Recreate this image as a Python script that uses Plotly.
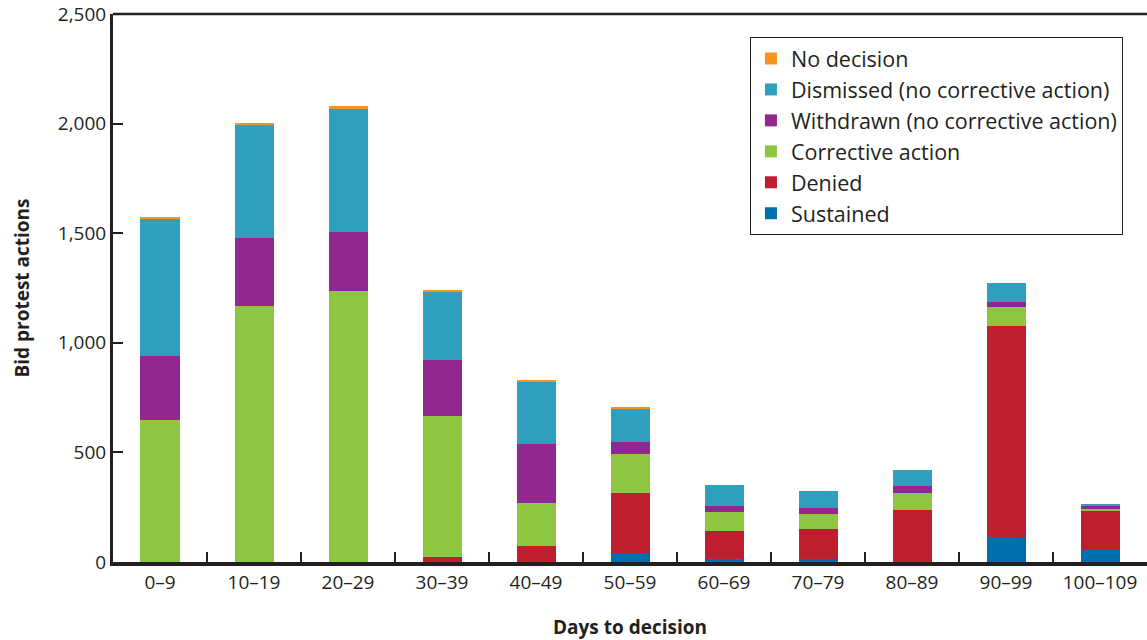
import plotly.graph_objects as go

categories = ["0–9", "10–19", "20–29", "30–39", "40–49", "50–59",
              "60–69", "70–79", "80–89", "90–99", "100–109"]

sustained  = [0, 0, 0, 2, 1, 40, 12, 12, 2, 114, 55]
denied     = [1, 2, 1, 21, 72, 275, 129, 139, 235, 963, 182]
corrective = [647, 1166, 1235, 643, 196, 178, 87, 68, 78, 86, 9]
withdrawn  = [292, 310, 270, 255, 269, 54, 27, 27, 32, 23, 9]
dismissed  = [625, 515, 565, 313, 285, 151, 96, 78, 73, 87, 10]
no_decision = [8, 10, 8, 8, 7, 9, 0, 0, 0, 0, 0]

series = [
    ("Sustained", sustained, "#006FAD"),
    ("Denied", denied, "#BE1E2D"),
    ("Corrective action", corrective, "#8DC63F"),
    ("Withdrawn (no corrective action)", withdrawn, "#92278F"),
    ("Dismissed (no corrective action)", dismissed, "#2E9FBF"),
    ("No decision", no_decision, "#F7941D"),
]

y_ticks = [0, 500, 1000, 1500, 2000, 2500]

FONT = "Open Sans"
TXT = "#231F20"

fig = go.Figure()
for name, vals, color in series:
    fig.add_trace(go.Bar(x=categories, y=vals, name=name, legendgroup=name,
                         marker=dict(color=color, line=dict(width=0))))

fig.update_layout(
    barmode="stack",
    bargap=0.585,
    width=1147, height=640,
    margin=dict(l=113, r=0, t=14, b=78),
    plot_bgcolor="white", paper_bgcolor="rgba(0,0,0,0)",
    font=dict(family=FONT, color=TXT, size=18),
    legend=dict(
        x=0.616, y=0.958, xanchor="left", yanchor="top",
        traceorder="reversed",
        bordercolor="#231F20", borderwidth=1,
        bgcolor="white",
        font=dict(family=FONT, size=21.5, color=TXT),
        tracegroupgap=4,
    ),
    showlegend=True,
)

fig.update_xaxes(
    type="category",
    range=[-0.5, 10.5],
    automargin=False,
    showline=True, linecolor="#231F20", linewidth=4,
    ticks="inside", tickson="boundaries", ticklen=10, tickwidth=1.5, tickcolor="#231F20",
    tickfont=dict(family=FONT, size=19, color=TXT),
    showgrid=False, zeroline=False,
    title=dict(text="<b>Days to decision</b>", font=dict(family=FONT, size=19, color=TXT), standoff=28),
)
fig.update_yaxes(
    range=[0, 2500],
    automargin=False,
    tickvals=y_ticks, tickformat=",d",
    showline=True, linecolor="#231F20", linewidth=3,
    ticks="inside", ticklen=10, tickwidth=1.5, tickcolor="#231F20",
    tickfont=dict(family=FONT, size=19, color=TXT),
    showgrid=False, zeroline=False,
    title=dict(text="<b>Bid protest actions</b>", font=dict(family=FONT, size=19, color=TXT), standoff=24),
)

# top border line of plot area
fig.add_shape(type="line", xref="paper", yref="paper", x0=0, x1=1, y0=1, y1=1,
              line=dict(color="#231F20", width=2.5))

fig.write_html("out.html",
               config={"displayModeBar": False},
               post_script="document.body.style.margin='0';document.body.style.background='white';")
